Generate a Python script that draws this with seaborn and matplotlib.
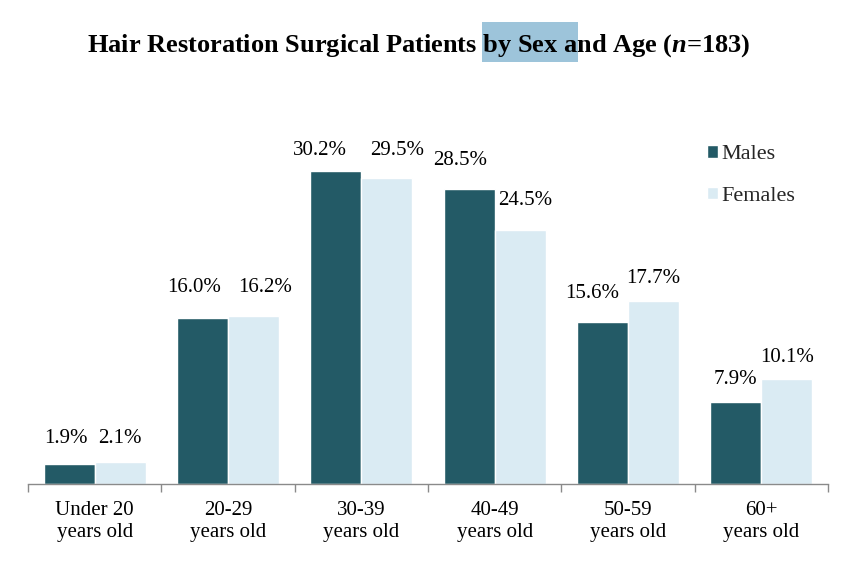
import matplotlib
matplotlib.use('Agg')
import matplotlib.pyplot as plt
import seaborn as sns
import pandas as pd
import numpy as np
from matplotlib.patches import Rectangle

categories = ["Under 20\nyears old", "20-29\nyears old", "30-39\nyears old",
              "40-49\nyears old", "50-59\nyears old", "60+\nyears old"]
males = [1.9, 16.0, 30.2, 28.5, 15.6, 7.9]
females = [2.1, 16.2, 29.5, 24.5, 17.7, 10.1]
series = ["Males", "Females"]
title_text = "Hair Restoration Surgical Patients by Sex and Age ($\\mathit{n}$=183)"

# label nudges (pixels) to mimic the original label placement
male_dx = [-3, -8, -16, -9, -10, 0]
male_dy = [26, 31, 21, 28, 29, 23]
female_dx = [0, 12, 10, 5, 0, 0]
female_dy = [24, 29, 28, 30, 22, 22]

df = pd.DataFrame({
    "Age": categories * 2,
    "Percent": males + females,
    "Sex": [series[0]] * len(males) + [series[1]] * len(females),
})

sns.set_theme(style="white")
plt.rcParams['font.family'] = ['Liberation Serif', 'DejaVu Serif']
plt.rcParams['mathtext.fontset'] = 'custom'
plt.rcParams['mathtext.it'] = 'Liberation Serif:italic:bold'
plt.rcParams['mathtext.rm'] = 'Liberation Serif:bold'
plt.rcParams['mathtext.bf'] = 'Liberation Serif:bold'

W, H = 854, 574
fig = plt.figure(figsize=(W / 100, H / 100), dpi=100)
ax = fig.add_axes([28 / W, 90 / H, 800 / W, 373 / H])

palette = {"Males": "#235a66", "Females": "#daebf3"}
sns.barplot(data=df, x="Age", y="Percent", hue="Sex", palette=palette,
            width=0.766, saturation=1, errorbar=None, ax=ax)

ax.set_ylim(0, 36)
ax.set_xlim(-0.5, len(categories) - 0.5)
ax.set_xlabel("")
ax.set_ylabel("")
ax.set_yticks([])
for s in ["left", "top", "right"]:
    ax.spines[s].set_visible(False)
ax.spines["bottom"].set_color("#8a8a8a")
ax.spines["bottom"].set_linewidth(1.0)

ax.set_xticks(np.arange(-0.5, len(categories), 1), minor=True)
ax.tick_params(axis='x', which='minor', bottom=True, length=6, width=1,
               color="#8a8a8a", direction='out')
ax.tick_params(axis='x', which='major', length=0, pad=12, labelsize=15,
               labelcolor='black')
for lbl in ax.get_xticklabels():
    lbl.set_linespacing(1.25)

for container, vals, dxs, dys in zip(ax.containers, [males, females],
                                     [male_dx, female_dx], [male_dy, female_dy]):
    for bar, v, dx, dy in zip(container, vals, dxs, dys):
        ax.annotate(f"{v:.1f}%", (bar.get_x() + bar.get_width() / 2, bar.get_height()),
                    xytext=(dx, dy), textcoords='offset pixels', ha='center', va='center',
                    fontsize=15, color='black')

handles, labels = ax.get_legend_handles_labels()
ax.legend(handles, labels, loc='center left',
          bbox_to_anchor=(707 / W, (H - 175.5) / H), bbox_transform=fig.transFigure,
          frameon=False, fontsize=16, handlelength=0.5, handleheight=0.5,
          handletextpad=0.15, labelspacing=1.0, borderpad=0, borderaxespad=0)

title = fig.text(418.5 / W, (H - 46) / H, title_text, ha='center', va='center',
                 fontsize=19, fontweight='bold', color='black')

fig.canvas.draw()
renderer = fig.canvas.get_renderer()
tb = title.get_window_extent(renderer)

def width_of(s):
    t = fig.text(0, 0, s, fontsize=19, fontweight='bold')
    w = t.get_window_extent(renderer).width
    t.remove()
    return w

start = tb.x0 + width_of("Hair Restoration Surgical Patients b") - width_of("b")
end = tb.x0 + width_of("Hair Restoration Surgical Patients by Sex a") + 2
rect = Rectangle((start / W, (H - 62) / H), (end - start) / W, 40 / H,
                 transform=fig.transFigure, facecolor="#9dc4da", edgecolor='none', zorder=1)
fig.add_artist(rect)
title.set_zorder(5)

fig.savefig("out.png", dpi=100)
